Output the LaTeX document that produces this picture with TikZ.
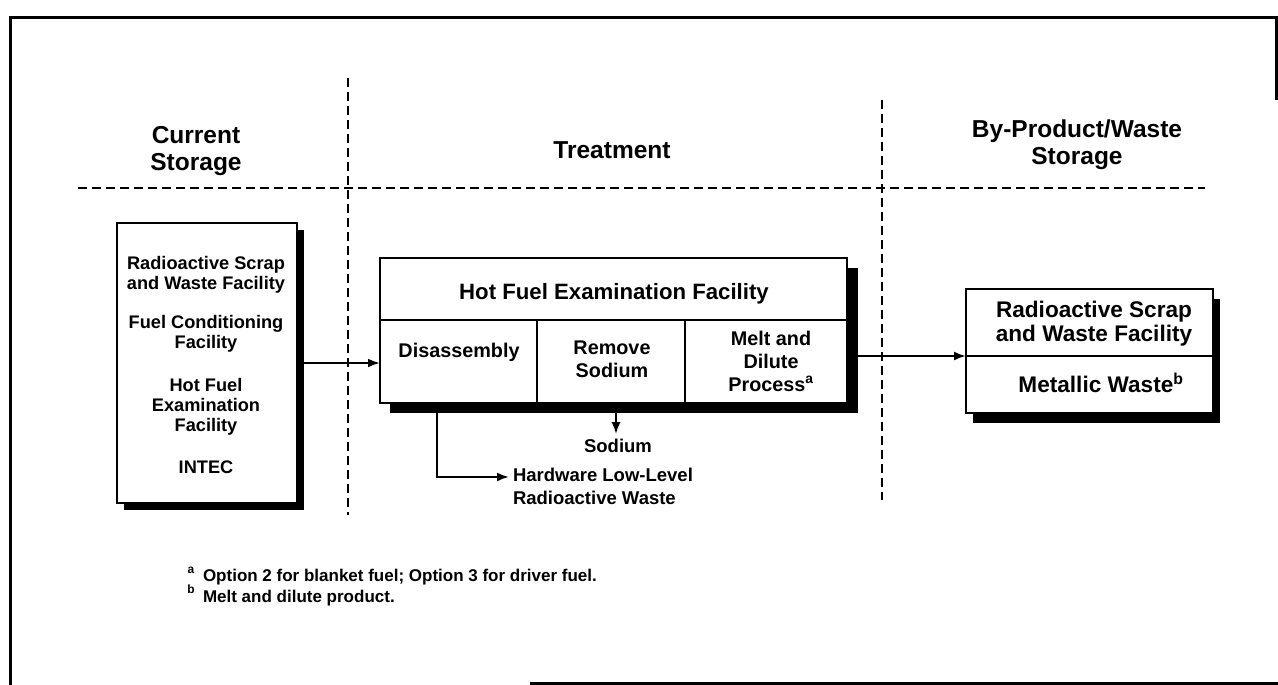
\documentclass[tikz,border=0pt]{standalone}
\usepackage{fontspec}
\setmainfont{Liberation Sans}
\usetikzlibrary{arrows.meta}
\begin{document}
\begin{tikzpicture}[x=1pt,y=-1pt,
  every node/.style={inner sep=0pt,outer sep=0pt},
  frameline/.style={line width=3pt},
  sectionline/.style={line width=2.6pt,dash pattern=on 9pt off 5pt},
  box/.style={draw,line width=2.5pt,fill=white,rectangle},
  boxshadow/.style={fill=black},
  flow/.style={line width=2.2pt,-{Latex[length=12pt,width=9pt]}},
  header/.style={font=\fontsize{24.5}{27}\selectfont\bfseries,align=center},
  small/.style={font=\fontsize{18.2}{20}\selectfont\bfseries,align=center},
  cell/.style={font=\fontsize{19.8}{23}\selectfont\bfseries,align=center},
  big/.style={font=\fontsize{22.6}{24}\selectfont\bfseries,align=center},
  outtext/.style={font=\fontsize{18.5}{23}\selectfont\bfseries},
  note/.style={font=\fontsize{17}{21}\selectfont\bfseries},
  notemark/.style={font=\fontsize{12}{14}\selectfont\bfseries}
]
\useasboundingbox (0,0) rectangle (1278,685);

% outer frame
\draw[frameline] (10,685) -- (10,18) -- (1276,18) -- (1276,100);
\draw[frameline] (530,683) -- (1278,683);

% section separators
\draw[sectionline] (78,188) -- (1205,188);
\draw[sectionline] (348,78) -- (348,515);
\draw[sectionline] (882,100) -- (882,500);

% section headers
\node[header] (hcur) at (196,151) {Current\\Storage};
\node[header] (htreat) at (612,150) {Treatment};
\node[header] (hby) at (1077,145) {By-Product/Waste\\Storage};

% current storage box
\fill[boxshadow] (124,230) rectangle (304,510);
\node[box,minimum width=180,minimum height=280] (store) at (207,363) {};
\node[small] (st1) at (206,275) {Radioactive Scrap\\and Waste Facility};
\node[small] (st2) at (206,334) {Fuel Conditioning\\Facility};
\node[small] (st3) at (206,407) {Hot Fuel\\Examination\\Facility};
\node[small] (st4) at (206,467) {INTEC};

% treatment box
\fill[boxshadow] (390,268) rectangle (858,413);
\node[box,minimum width=467,minimum height=62] (hfef) at (613.5,289) {};
\node[box,minimum width=158,minimum height=83] (dis) at (459,361.5) {};
\node[box,minimum width=148,minimum height=83] (rem) at (611,361.5) {};
\node[box,minimum width=162,minimum height=83] (melt) at (766,361.5) {};
\node[font=\fontsize{22.2}{24}\selectfont\bfseries] (hfefT) at (614,294) {Hot Fuel Examination Facility};
\node[cell] (disT) at (459,352) {Disassembly};
\node[cell] (remT) at (612,359) {Remove\\Sodium};
\node[cell] (meltT) at (771,361) {Melt and\\Dilute\\Process\textsuperscript{a}};

% by-product / waste storage box
\fill[boxshadow] (973,299) rectangle (1220,423);
\node[box,minimum width=247,minimum height=67] (rtop) at (1089.5,322.5) {};
\node[box,minimum width=247,minimum height=57] (rbot) at (1089.5,384.5) {};
\node[big] (rtopT) at (1094,324) {Radioactive Scrap\\and Waste Facility};
\node[big] (rbotT) at (1101,383) {Metallic Waste\textsuperscript{b}};

% outputs of the treatment step
\node[outtext] (sod) at (618,446) {Sodium};
\node[outtext,anchor=north west,align=left] (hw) at (513,468) {Hardware Low-Level\\Radioactive Waste};
\coordinate (bend) at (437,477);

% flows
\draw[flow] (store.east) -- (store.east -| dis.west);
\draw[flow] (melt.east |- rtop.south) -- (rtop.south west);
\draw[flow] (rem.south -| 616,0) -- ([yshift=5pt]sod.north -| 616,0);
\draw[flow] (dis.south -| bend) -- (bend) -- ([xshift=-4pt]hw.west |- bend);

% footnotes
\node[notemark] (fna) at (191,570) {a};
\node[notemark] (fnb) at (191,589) {b};
\node[note,anchor=west] (fn1) at (203,577) {Option 2 for blanket fuel; Option 3 for driver fuel.};
\node[note,anchor=west] (fn2) at (203,598) {Melt and dilute product.};
\end{tikzpicture}
\end{document}
